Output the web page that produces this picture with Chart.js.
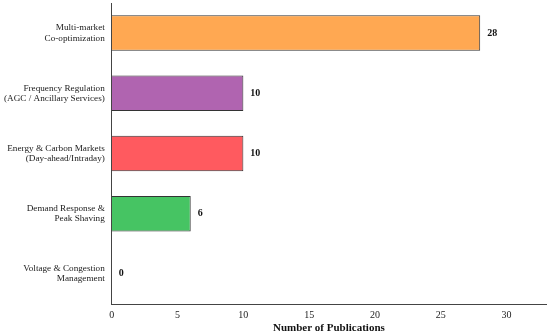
<!DOCTYPE html>
<html>
<head>
<meta charset="utf-8">
<script src="https://cdn.jsdelivr.net/npm/chart.js@4.4.0/dist/chart.umd.min.js"></script>
<style>
  html, body { margin: 0; padding: 0; background: #fff; }
  #wrap { width: 550px; height: 334px; position: relative; }
</style>
</head>
<body>
<div id="wrap"><canvas id="pubChart"></canvas></div>
<script>
const categories = [
  ['Multi-market', 'Co-optimization'],
  ['Frequency Regulation', '(AGC / Ancillary Services)'],
  ['Energy & Carbon Markets', '(Day-ahead/Intraday)'],
  ['Demand Response &', 'Peak Shaving'],
  ['Voltage & Congestion', 'Management']
];
const publications = [28, 10, 10, 6, 0];
const barColors = ['#FFA852', '#B064B0', '#FF5A5F', '#46C463', '#888888'];
const xTicks = [0, 5, 10, 15, 20, 25, 30];

const fontFamily = '"Liberation Serif", "DejaVu Serif", serif';

// bold numbers to the right of each bar
const valueLabels = {
  id: 'valueLabels',
  afterDatasetsDraw(chart) {
    const ctx = chart.ctx;
    const meta = chart.getDatasetMeta(0);
    ctx.save();
    ctx.font = 'bold 10px ' + fontFamily;
    ctx.fillStyle = '#111';
    ctx.textBaseline = 'middle';
    ctx.textAlign = 'left';
    meta.data.forEach((bar, i) => {
      ctx.fillText(String(publications[i]), bar.x + 7, bar.y);
    });
    ctx.restore();
  }
};

const ctx = document.getElementById('pubChart').getContext('2d');
const chart = new Chart(ctx, {
  type: 'bar',
  data: {
    labels: categories,
    datasets: [{
      data: publications,
      backgroundColor: barColors,
      borderColor: '#333333',
      borderWidth: 1,
      barPercentage: 0.59,
      categoryPercentage: 1
    }]
  },
  options: {
    indexAxis: 'y',
    animation: false,
    responsive: true,
    maintainAspectRatio: false,
    layout: { padding: { top: 3, right: 4, left: 0, bottom: 0 } },
    scales: {
      x: {
        min: 0,
        max: 33,
        afterBuildTicks(axis) {
          axis.ticks = xTicks.map(v => ({ value: v }));
        },
        grid: { display: false, drawTicks: true, tickLength: 3, tickColor: '#444' },
        border: { display: true, color: '#444', width: 1 },
        ticks: { color: '#222', font: { family: fontFamily, size: 10 }, padding: 2 },
        title: {
          display: true,
          text: 'Number of Publications',
          color: '#111',
          font: { family: fontFamily, size: 11, weight: 'bold', lineHeight: 1 },
          padding: { top: 0, bottom: 0 }
        }
      },
      y: {
        afterFit(axis) {
          axis.paddingTop = 0;
          axis.paddingBottom = 0;
        },
        grid: { display: false, drawTicks: true, tickLength: 3, tickColor: '#444' },
        border: { display: true, color: '#444', width: 1 },
        ticks: { color: '#222', font: { family: fontFamily, size: 9.2, lineHeight: 1.1 }, padding: 4 }
      }
    },
    plugins: {
      legend: { display: false },
      tooltip: { enabled: false }
    }
  },
  plugins: [valueLabels]
});
</script>
</body>
</html>
